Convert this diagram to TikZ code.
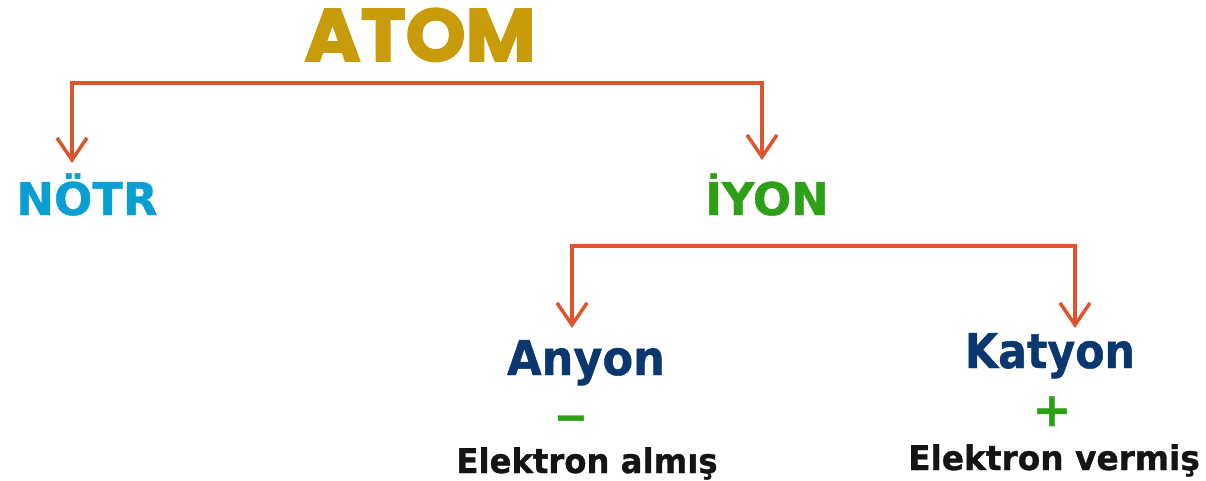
\documentclass[tikz,border=0pt]{standalone}
\usepackage{fontspec}
\usetikzlibrary{arrows.meta}
\newfontfamily\dvs{DejaVu Sans}[BoldFeatures={FakeBold=1}]
\newfontfamily\pop{Poppins}[BoldFeatures={FakeBold=2.5}]
\definecolor{linec}{HTML}{DC552D}
\definecolor{gold}{HTML}{C89B0A}
\definecolor{cyanc}{HTML}{0A9FD2}
\definecolor{greenc}{HTML}{2CA016}
\definecolor{navy}{HTML}{0A376E}
\definecolor{textc}{HTML}{141414}
\tikzset{
  lbl/.style={anchor=base, inner sep=0pt, outer sep=0pt},
  conn/.style={draw=linec, line width=3.5pt, line cap=rect},
  arr/.style={conn, line cap=butt, -{Straight Barb[length=22pt,width=30pt,line width=3.5pt]}},
}
\begin{document}
\begin{tikzpicture}[x=1pt,y=-1pt]
\useasboundingbox (0,0) rectangle (1206,481);
% labels
\node[lbl, text=gold] (atom) at (420,61) {\pop\bfseries\fontsize{74}{80}\selectfont\scalebox{1.03}[1]{ATOM}};
\node[lbl, text=cyanc] (notr) at (87,215) {\dvs\bfseries\fontsize{45}{54}\selectfont NÖTR};
\node[lbl, text=greenc] (iyon) at (767,215) {\dvs\bfseries\fontsize{45}{54}\selectfont İYON};
\node[lbl, text=navy] (anyon) at (586,375) {\dvs\bfseries\fontsize{48}{56}\selectfont\scalebox{0.93}[1]{Anyon}};
\node[lbl, text=navy] (katyon) at (1050,368) {\dvs\bfseries\fontsize{48}{56}\selectfont\scalebox{0.89}[1]{Katyon}};
\node[lbl, text=greenc] (minus) at (571,429) {\dvs\bfseries\fontsize{40}{50}\selectfont\scalebox{1.6}[1]{–}};
\node[lbl, text=greenc] (plus) at (1052,426) {\dvs\bfseries\fontsize{47}{50}\selectfont +};
\node[lbl, text=textc] (alm) at (587,473) {\dvs\bfseries\fontsize{34}{40}\selectfont\scalebox{0.95}[1]{Elektron almış}};
\node[lbl, text=textc] (ver) at (1054,470) {\dvs\bfseries\fontsize{34}{40}\selectfont\scalebox{0.965}[1]{Elektron vermiş}};
% connector corners and tips
\coordinate (b1l) at (72,83);
\coordinate (b1r) at (762,83);
\coordinate (t1l) at (72,163);
\coordinate (t1r) at (762,160);
\coordinate (b2l) at (572,246);
\coordinate (b2r) at (1075,246);
\coordinate (t2l) at (572,328);
\coordinate (t2r) at (1075,328);
\draw[conn] (b1l) -- (b1r);
\draw[arr] (b1l) -- (t1l);
\draw[arr] (b1r) -- (t1r);
\draw[conn] (b2l) -- (b2r);
\draw[arr] (b2l) -- (t2l);
\draw[arr] (b2r) -- (t2r);
\end{tikzpicture}
\end{document}
